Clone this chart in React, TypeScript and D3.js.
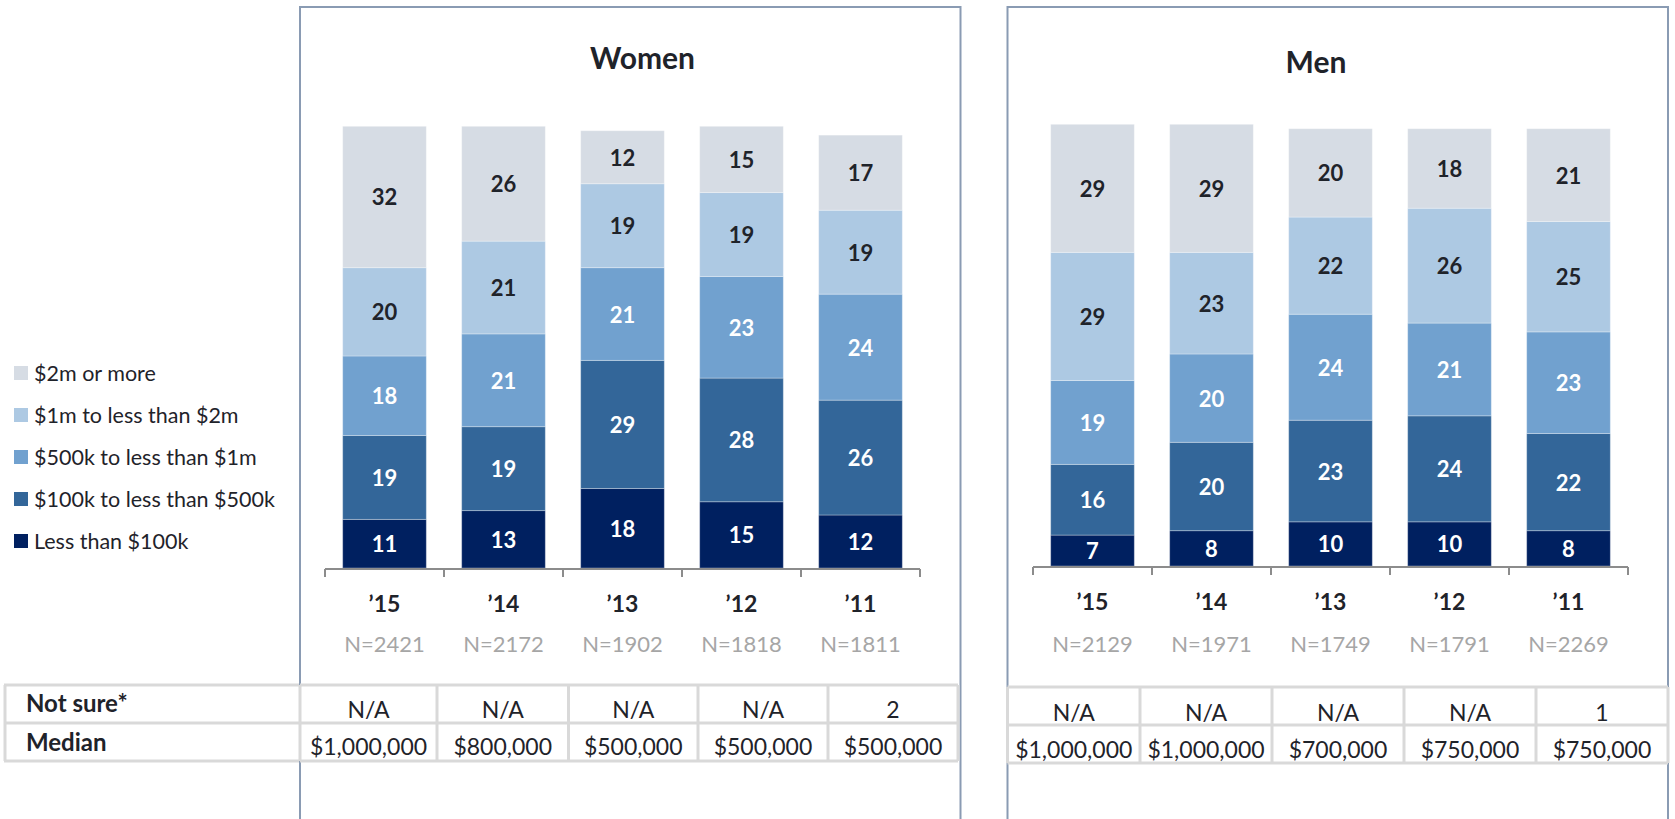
import React from "react";
import * as d3 from "d3";

// ---------- data ----------
const years = ["\u201915", "\u201914", "\u201913", "\u201912", "\u201911"];
const seriesNames = [
  "Less than $100k",
  "$100k to less than $500k",
  "$500k to less than $1m",
  "$1m to less than $2m",
  "$2m or more",
];
const seriesColors = ["#002060", "#336699", "#71a1cf", "#adc9e3", "#d6dce4"];
const labelColors = ["#ffffff", "#ffffff", "#ffffff", "#1f232a", "#1f232a"];

const womenLess100k = [11, 13, 18, 15, 12];
const women100kTo500k = [19, 19, 29, 28, 26];
const women500kTo1m = [18, 21, 21, 23, 24];
const women1mTo2m = [20, 21, 19, 19, 19];
const women2mPlus = [32, 26, 12, 15, 17];

const menLess100k = [7, 8, 10, 10, 8];
const men100kTo500k = [16, 20, 23, 24, 22];
const men500kTo1m = [19, 20, 24, 21, 23];
const men1mTo2m = [29, 23, 22, 26, 25];
const men2mPlus = [29, 29, 20, 18, 21];

const womenN = [2421, 2172, 1902, 1818, 1811];
const menN = [2129, 1971, 1749, 1791, 2269];

const rowLabels = ["Not sure*", "Median"];
const womenNotSure = ["N/A", "N/A", "N/A", "N/A", "2"];
const womenMedian = ["$1,000,000", "$800,000", "$500,000", "$500,000", "$500,000"];
const menNotSure = ["N/A", "N/A", "N/A", "N/A", "1"];
const menMedian = ["$1,000,000", "$1,000,000", "$700,000", "$750,000", "$750,000"];

// ---------- layout ----------
const W = 1675;
const H = 819;
const FONT = "Lato, 'Open Sans', 'Noto Sans', sans-serif";
const PANEL_STROKE = "#8a9bb3";
const GRID = "#d9d9d9";
const TEXT = "#1f232a";

type PanelCfg = {
  title: string;
  series: number[][];
  n: number[];
  notSure: string[];
  median: string[];
  px0: number;
  px1: number;
  axisX0: number;
  axisX1: number;
  bottom: number;
  axisY: number;
  titleX: number;
  titleY: number;
  catY: number;
  nY: number;
  cols: number[];
  tTop: number;
  tMid: number;
  tBot: number;
  r1Y: number;
  r2Y: number;
};

const panels: PanelCfg[] = [
  {
    title: "Women",
    series: [womenLess100k, women100kTo500k, women500kTo1m, women1mTo2m, women2mPlus],
    n: womenN,
    notSure: womenNotSure,
    median: womenMedian,
    px0: 300,
    px1: 960.5,
    axisX0: 325,
    axisX1: 920,
    bottom: 568,
    axisY: 569,
    titleX: 642.5,
    titleY: 57,
    catY: 603,
    nY: 643,
    cols: [300, 437, 568.5, 698, 828, 958],
    tTop: 685,
    tMid: 723,
    tBot: 761,
    r1Y: 709,
    r2Y: 746,
  },
  {
    title: "Men",
    series: [menLess100k, men100kTo500k, men500kTo1m, men1mTo2m, men2mPlus],
    n: menN,
    notSure: menNotSure,
    median: menMedian,
    px0: 1007.5,
    px1: 1668,
    axisX0: 1033,
    axisX1: 1628,
    bottom: 566,
    axisY: 567,
    titleX: 1316,
    titleY: 61,
    catY: 601,
    nY: 643,
    cols: [1007.5, 1140, 1272, 1404, 1536, 1668],
    tTop: 687,
    tMid: 725,
    tBot: 763,
    r1Y: 712,
    r2Y: 749,
  },
];

function Panel({ cfg }: { cfg: PanelCfg }) {
  const x = d3
    .scaleBand<string>()
    .domain(years)
    .range([cfg.axisX0, cfg.axisX1])
    .paddingInner(0.297)
    .paddingOuter(0.1485);
  const y = d3.scaleLinear().domain([0, 100]).range([cfg.bottom, cfg.bottom - 441.7]);

  const rows = years.map((yr, i) => {
    const o: any = { year: yr };
    cfg.series.forEach((s, k) => (o["s" + k] = s[i]));
    return o;
  });
  const stack = d3.stack<any>().keys(cfg.series.map((_, k) => "s" + k))(rows);

  const ticks = [...years.map((yr) => x(yr)! - (x.step() - x.bandwidth()) / 2), cfg.axisX1];

  return (
    <g>
      <rect
        x={cfg.px0}
        y={7}
        width={cfg.px1 - cfg.px0}
        height={H + 20}
        fill="none"
        stroke={PANEL_STROKE}
        strokeWidth={2}
      />
      <text
        x={cfg.titleX}
        y={cfg.titleY}
        textAnchor="middle"
        dominantBaseline="central"
        fontWeight={700}
        fontSize={30}
        fill={TEXT}
      >
        {cfg.title}
      </text>
      {stack.map((layer, k) => (
        <g key={k}>
          {layer.map((d, i) => (
            <g key={i}>
              <rect
                x={x(years[i])}
                y={y(d[1])}
                width={x.bandwidth()}
                height={y(d[0]) - y(d[1])}
                fill={seriesColors[k]}
                stroke="#ffffff"
                strokeOpacity={0.3}
                strokeWidth={1}
              />
              <text
                x={x(years[i])! + x.bandwidth() / 2}
                y={(y(d[0]) + y(d[1])) / 2}
                textAnchor="middle"
                dominantBaseline="central"
                fontWeight={700}
                fontSize={22}
                fill={labelColors[k]}
              >
                {d[1] - d[0]}
              </text>
            </g>
          ))}
        </g>
      ))}
      <line
        x1={cfg.axisX0}
        x2={cfg.axisX1}
        y1={cfg.axisY}
        y2={cfg.axisY}
        stroke="#8c8c8c"
        strokeWidth={2}
      />
      {ticks.map((t, i) => (
        <line key={i} x1={t} x2={t} y1={cfg.axisY} y2={cfg.axisY + 8} stroke="#8c8c8c" strokeWidth={2} />
      ))}
      {years.map((yr, i) => (
        <g key={yr}>
          <text
            x={x(yr)! + x.bandwidth() / 2}
            y={cfg.catY}
            textAnchor="middle"
            dominantBaseline="central"
            fontWeight={700}
            fontSize={23}
            fill={TEXT}
          >
            {yr}
          </text>
          <text
            x={x(yr)! + x.bandwidth() / 2}
            y={cfg.nY}
            textAnchor="middle"
            dominantBaseline="central"
            fontSize={22}
            fill="#a6a6a6"
          >
            {"N=" + cfg.n[i]}
          </text>
        </g>
      ))}
      {/* table */}
      <line x1={cfg.cols[0]} x2={cfg.cols[5]} y1={cfg.tTop} y2={cfg.tTop} stroke={GRID} strokeWidth={3} />
      <line x1={cfg.cols[0]} x2={cfg.cols[5]} y1={cfg.tMid} y2={cfg.tMid} stroke={GRID} strokeWidth={3} />
      <line x1={cfg.cols[0]} x2={cfg.cols[5]} y1={cfg.tBot} y2={cfg.tBot} stroke={GRID} strokeWidth={3} />
      {cfg.cols.map((c, i) => (
        <line key={i} x1={c} x2={c} y1={cfg.tTop} y2={cfg.tBot} stroke={GRID} strokeWidth={3} />
      ))}
      {years.map((_, i) => {
        const mx = (cfg.cols[i] + cfg.cols[i + 1]) / 2;
        return (
          <g key={i}>
            <text x={mx} y={cfg.r1Y} textAnchor="middle" dominantBaseline="central" fontSize={23} fill={TEXT}>
              {cfg.notSure[i]}
            </text>
            <text x={mx} y={cfg.r2Y} textAnchor="middle" dominantBaseline="central" fontSize={23} fill={TEXT}>
              {cfg.median[i]}
            </text>
          </g>
        );
      })}
    </g>
  );
}

export default function App() {
  const legendOrder = [4, 3, 2, 1, 0];
  const legendY = d3.scalePoint<number>().domain(legendOrder).range([373, 541]);
  return (
    <svg
      width={W}
      height={H}
      style={{ position: "absolute", left: 0, top: 0, background: "#ffffff" }}
      fontFamily={FONT}
    >
      <rect x={0} y={0} width={W} height={H} fill="#ffffff" />
      {/* legend */}
      {legendOrder.map((k) => (
        <g key={k}>
          <rect x={14} y={legendY(k)! - 7} width={14} height={14} fill={seriesColors[k]} />
          <text x={34} y={legendY(k)} dominantBaseline="central" fontSize={21.5} fill={TEXT}>
            {seriesNames[k]}
          </text>
        </g>
      ))}
      {/* women table row-label column */}
      <line x1={4} x2={300} y1={685} y2={685} stroke={GRID} strokeWidth={3} />
      <line x1={4} x2={300} y1={723} y2={723} stroke={GRID} strokeWidth={3} />
      <line x1={4} x2={300} y1={761} y2={761} stroke={GRID} strokeWidth={3} />
      <line x1={5} x2={5} y1={685} y2={761} stroke={GRID} strokeWidth={3} />
      <text x={26} y={702} dominantBaseline="central" fontWeight={700} fontSize={24} fill={TEXT}>
        {rowLabels[0]}
      </text>
      <text x={26} y={741} dominantBaseline="central" fontWeight={700} fontSize={24} fill={TEXT}>
        {rowLabels[1]}
      </text>
      {panels.map((p) => (
        <Panel key={p.title} cfg={p} />
      ))}
    </svg>
  );
}
